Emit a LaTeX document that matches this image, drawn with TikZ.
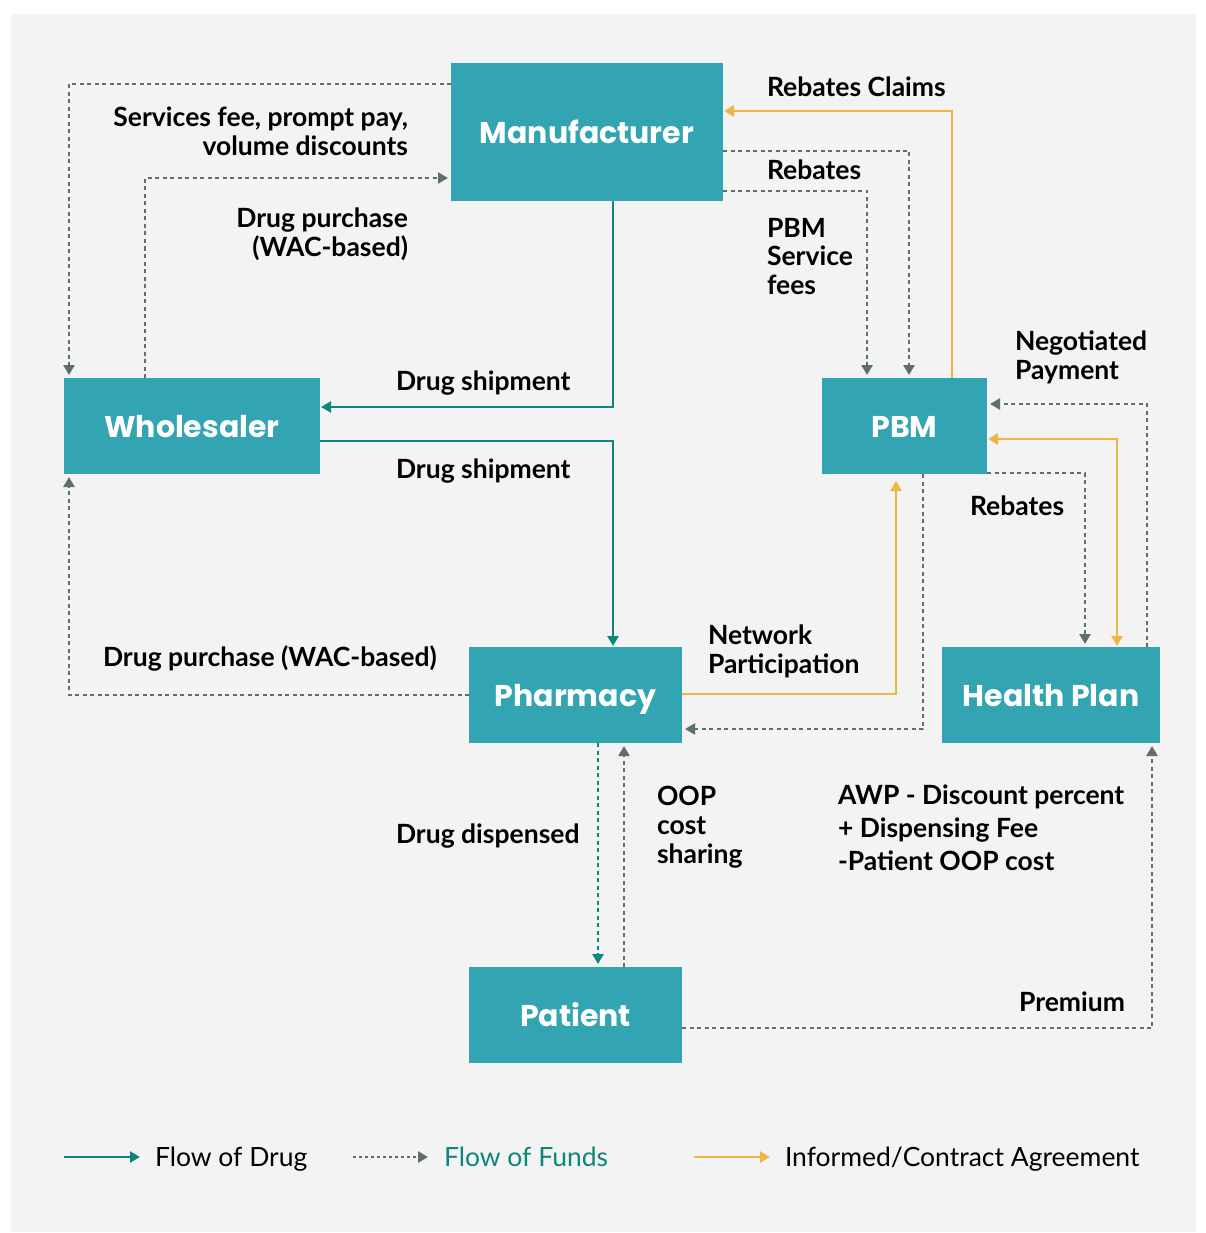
\documentclass[tikz,border=0pt]{standalone}
\usepackage{fontspec}
\setmainfont{Lato}
\newfontfamily\boxfont{Poppins}
\usetikzlibrary{arrows.meta}
\definecolor{boxc}{HTML}{33A4B1}
\definecolor{drugc}{HTML}{0B877E}
\definecolor{fundc}{HTML}{5F6E6E}
\definecolor{contc}{HTML}{F0B545}
\definecolor{bgc}{HTML}{F3F3F3}
\tikzset{
  box/.style={fill=boxc, text=white, inner sep=0, outer sep=0, anchor=north west,
    text height=26pt, text depth=3pt,
    font=\boxfont\bfseries\fontsize{30}{34}\selectfont},
  lbl/.style={inner sep=0, outer sep=0, font=\bfseries\fontsize{26.5}{29}\selectfont, text=black},
  leg/.style={inner sep=0, outer sep=0, font=\fontsize{26.5}{29}\selectfont, anchor=base west},
  tip/.style={-{Triangle[length=10pt,width=11pt]}},
  drug/.style={draw=drugc, line width=2.5pt, tip, shorten >=1pt},
  funds/.style={draw=fundc, line width=2.8pt, dash pattern=on 4pt off 3.5pt, tip, shorten >=3pt},
  drugdot/.style={draw=drugc, line width=2.8pt, dash pattern=on 4pt off 3.5pt, tip, shorten >=3pt},
  contract/.style={draw=contc, line width=2.5pt, tip, shorten >=1pt},
}
\begin{document}
\begin{tikzpicture}[x=1pt,y=-1pt]
\useasboundingbox (0,0) rectangle (1206,1233);
\fill[bgc] (11,14) rectangle (1196,1232);

% boxes
\node[box, minimum width=272, minimum height=138] (man) at (451,63) {Manufacturer};
\node[box, minimum width=256, minimum height=96] (whole) at (64,378) {Wholesaler};
\node[box, minimum width=165, minimum height=96] (pbm) at (822,378) {PBM};
\node[box, minimum width=213, minimum height=96] (pharm) at (469,647) {Pharmacy};
\node[box, minimum width=218, minimum height=96] (hp) at (942,647) {Health Plan};
\node[box, minimum width=213, minimum height=96] (pat) at (469,967) {Patient};

% connectors
\draw[funds] (man.west |- 0,84) -| (whole.north -| 69,0);
\draw[funds] (whole.north -| 145,0) |- (man.west |- 0,178);
\draw[drug] (man.south -| 613,0) |- (whole.east |- 0,407);
\draw[drug] (whole.east |- 0,441) -| (pharm.north -| 613,0);
\draw[funds] (pharm.west |- 0,695) -| (whole.south -| 69,0);
\draw[contract] (pbm.north -| 952,0) |- (man.east |- 0,111);
\draw[funds] (man.east |- 0,151) -| (pbm.north -| 909,0);
\draw[funds] (man.east |- 0,191) -| (pbm.north -| 867,0);
\draw[funds] (hp.north -| 1147,0) |- (pbm.east |- 0,404);
\draw[contract, {Triangle[length=10pt,width=11pt]}-{Triangle[length=10pt,width=11pt]}, shorten <=1pt] (pbm.east |- 0,439) -| (hp.north -| 1117,0);
\draw[funds] (pbm.east |- 0,473) -| (hp.north -| 1085,0);
\draw[funds] (pbm.south -| 923,0) |- (pharm.east |- 0,729);
\draw[contract, shorten >=7pt] (pharm.east |- 0,694) -| (pbm.south -| 896,0);
\draw[drugdot] (pharm.south -| 598,0) -- (pat.north -| 598,0);
\draw[funds] (pat.north -| 624,0) -- (pharm.south -| 624,0);
\draw[funds] (pat.east |- 0,1028) -| (hp.south -| 1152,0);

% labels
\node[lbl, anchor=north east, align=right] (l1) at (408,107) {Services fee, prompt pay,\\volume discounts};
\node[lbl, anchor=north east, align=right] (l2) at (408,208) {Drug purchase\\(WAC-based)};
\node[lbl, anchor=north west] (l3) at (396,371) {Drug shipment};
\node[lbl, anchor=north west] (l4) at (396,459) {Drug shipment};
\node[lbl, anchor=north west] (l5) at (767,77) {Rebates Claims};
\node[lbl, anchor=north west] (l6) at (767,160) {Rebates};
\node[lbl, anchor=north west, align=left, font=\bfseries\fontsize{26.5}{28.5}\selectfont] (l7) at (767,218) {PBM\\Service\\fees};
\node[lbl, anchor=north west, align=left] (l8) at (1015,331) {Negotiated\\Payment};
\node[lbl, anchor=north west] (l9) at (970,496) {Rebates};
\node[lbl, anchor=north west, align=left] (l10) at (708,625) {Network\\Participation};
\node[lbl, anchor=north west] (l11) at (103,646) {Drug purchase (WAC-based)};
\node[lbl, anchor=north west] (l12) at (396,824) {Drug dispensed};
\node[lbl, anchor=north west, align=left] (l13) at (657,786) {OOP\\cost\\sharing};
\node[lbl, anchor=north west, align=left, font=\bfseries\fontsize{26.5}{33}\selectfont] (l14) at (838,785) {AWP - Discount percent\\+ Dispensing Fee\\-Patient OOP cost};
\node[lbl, anchor=north east] (l15) at (1125,992) {Premium};

% legend
\coordinate (a1) at (64,1157);  \coordinate (b1) at (140,1157);
\coordinate (a2) at (353,1157); \coordinate (b2) at (428,1157);
\coordinate (a3) at (694,1157); \coordinate (b3) at (770,1157);
\draw[drug, shorten >=0pt] (a1) -- (b1);
\draw[funds, shorten >=0pt, dash pattern=on 3pt off 3pt] (a2) -- (b2);
\draw[contract, shorten >=0pt] (a3) -- (b3);
\node[leg] (t1) at (155,1166) {Flow of Drug};
\node[leg, text=drugc] (t2) at (444,1166) {Flow of Funds};
\node[leg] (t3) at (785,1166) {Informed/Contract Agreement};
\end{tikzpicture}
\end{document}
